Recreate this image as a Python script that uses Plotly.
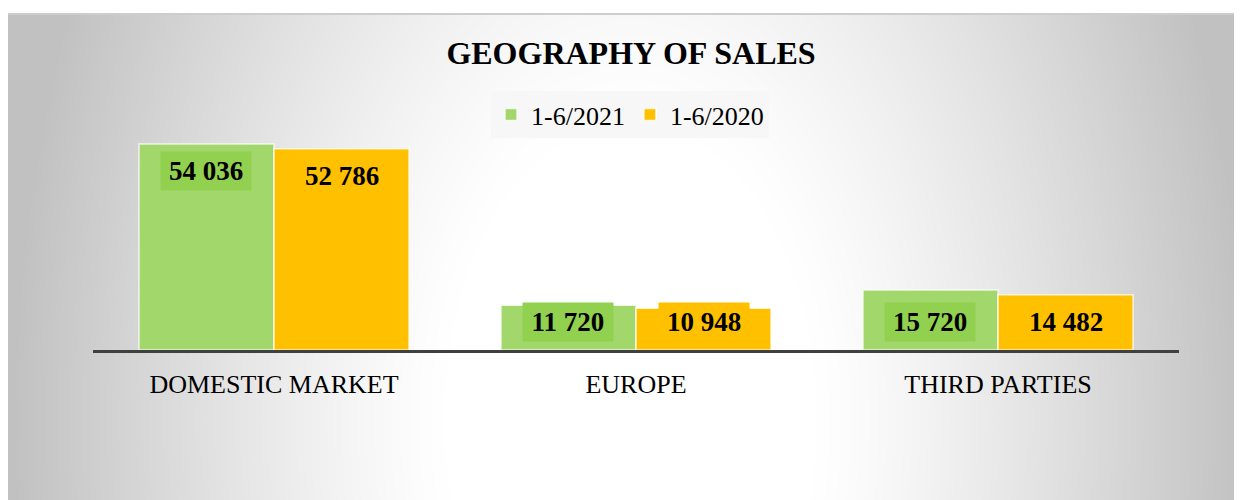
import zlib, struct, base64
import numpy as np
import plotly.graph_objects as go

categories = ["DOMESTIC MARKET", "EUROPE", "THIRD PARTIES"]
series_names = ["1-6/2021", "1-6/2020"]
values_2021 = [54036, 11720, 15720]
values_2020 = [52786, 10948, 14482]
value_labels_2021 = ["54 036", "11 720", "15 720"]
value_labels_2020 = ["52 786", "10 948", "14 482"]

GREEN = "#a2d76c"
GREEN_BOX = "#92d050"
ORANGE = "#ffc000"
FONT = "Times New Roman, Liberation Serif, serif"

OFF = 8  # page offset of the figure (body margin)


# ---- radial-ish gradient background as PNG ----
def png_gray(arr):
    h, w = arr.shape
    raw = b"".join(b"\x00" + arr[i].tobytes() for i in range(h))

    def chunk(t, d):
        c = struct.pack(">I", len(d)) + t + d
        return c + struct.pack(">I", zlib.crc32(t + d) & 0xFFFFFFFF)

    return (b"\x89PNG\r\n\x1a\n"
            + chunk(b"IHDR", struct.pack(">IIBBBBB", w, h, 8, 0, 0, 0, 0))
            + chunk(b"IDAT", zlib.compress(raw, 9))
            + chunk(b"IEND", b""))


W, H = 1242, 495
yy, xx = np.mgrid[0:H, 0:W]
cx, cy, rx, ry = 622, 407, 620, 1000
d = np.sqrt(((xx - cx) / rx) ** 2 + ((yy - cy) / ry) ** 2)
t = np.clip((d - 0.3) / 0.7, 0, 1) ** 1.2
g = 255 - 62 * t
g[0:2, :] = 205
img = np.clip(g, 0, 255).astype(np.uint8)
bg_uri = "data:image/png;base64," + base64.b64encode(png_gray(img)).decode()

# plot area geometry (figure pixels)
FW, FH = 1242, 500
L = 93 - OFF
PR = 1179 - OFF
T = 120 - OFF
AX = 350 - OFF
R = FW - PR
B = FH - AX
PW, PH = PR - L, AX - T
YMAX = 60330

fig = go.Figure()
fig.add_trace(go.Bar(x=categories, y=values_2021, name=series_names[0],
                     marker=dict(color=GREEN, line=dict(color="rgba(255,255,255,0.75)", width=1.5))))
fig.add_trace(go.Bar(x=categories, y=values_2020, name=series_names[1],
                     marker=dict(color=ORANGE, line=dict(color="rgba(255,255,255,0.75)", width=1.5))))

px_per_unit = PH / YMAX
for vals, labs, shift, box in [(values_2021, value_labels_2021, -68, GREEN_BOX),
                               (values_2020, value_labels_2020, 68, ORANGE)]:
    for c, v, lab in zip(categories, vals, labs):
        common = dict(x=c, xref="x", yref="y", text="<b>" + lab + "</b>",
                      showarrow=False, xshift=shift, bgcolor=box, borderpad=4,
                      width=82, height=30,
                      font=dict(family=FONT, size=27, color="black"))
        if v * px_per_unit > 60:
            fig.add_annotation(y=v, yanchor="top", yshift=-7, **common)
        else:
            fig.add_annotation(y=0, yanchor="bottom", yshift=8, **common)

fig.add_layout_image(dict(source=bg_uri, xref="paper", yref="paper",
                          x=(0 - L) / PW, y=(AX - 5) / PH,
                          sizex=W / PW, sizey=H / PH,
                          xanchor="left", yanchor="top", sizing="stretch", layer="below"))

fig.update_layout(
    width=FW, height=FH,
    margin=dict(l=L, r=R, t=T, b=B),
    paper_bgcolor="white", plot_bgcolor="rgba(0,0,0,0)",
    barmode="group", bargap=0.254, bargroupgap=0,
    title=dict(text="<b>GEOGRAPHY OF SALES</b>", x=(631 - OFF) / FW, xanchor="center",
               y=1 - (53 - OFF) / FH, yanchor="middle",
               font=dict(family=FONT, size=32, color="black")),
    legend=dict(orientation="h", x=(630 - OFF - L) / PW, xanchor="center",
                y=(AX - (91 - OFF)) / PH, yanchor="top", bgcolor="#f7f7f7",
                font=dict(family=FONT, size=26, color="black"), itemwidth=30),
    xaxis=dict(showline=True, linecolor="#404040", linewidth=3, ticks="",
               tickfont=dict(family=FONT, size=26, color="black"),
               ticklabelstandoff=9, showgrid=False),
    yaxis=dict(visible=False, range=[0, YMAX], showgrid=False, zeroline=False),
    showlegend=True,
)

fig.write_html("out.html")
